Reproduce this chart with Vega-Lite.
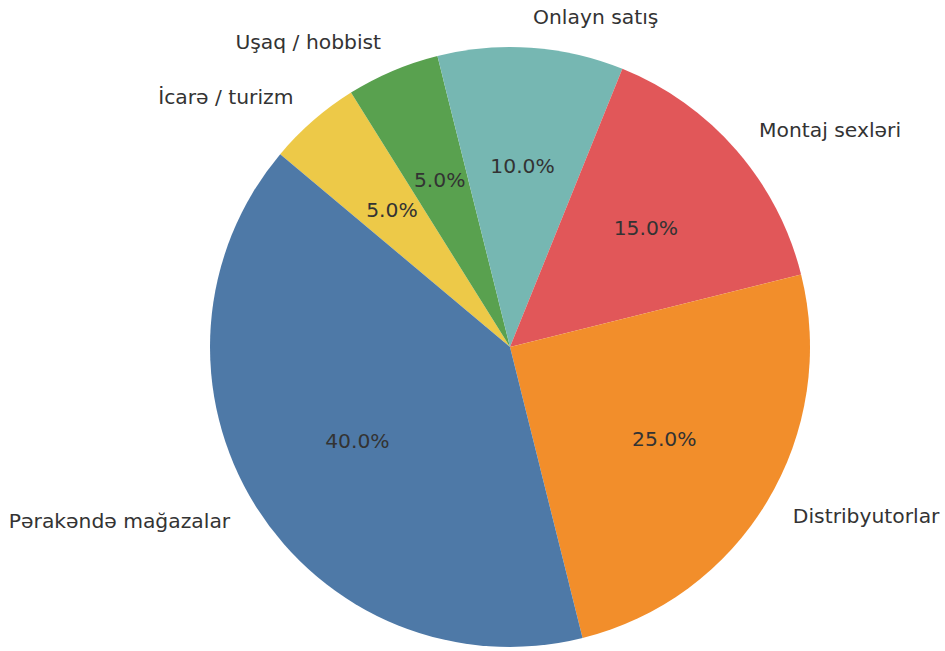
{
  "$schema": "https://vega.github.io/schema/vega-lite/v6.json",
  "width": 870,
  "height": 608,
  "padding": {"left": 75, "top": 43, "right": 0, "bottom": 0},
  "autosize": {"type": "none"},
  "background": "white",
  "view": {"stroke": null},
  "data": {
    "values": [
      {"label": "İcarə / turizm", "share": 5},
      {"label": "Uşaq / hobbist", "share": 5},
      {"label": "Onlayn satış", "share": 10},
      {"label": "Montaj sexləri", "share": 15},
      {"label": "Distribyutorlar", "share": 25},
      {"label": "Pərakəndə mağazalar", "share": 40}
    ]
  },
  "transform": [
    {"window": [{"op": "sum", "field": "share", "as": "s1"}], "frame": [null, 0]},
    {"calculate": "datum.s1 - datum.share", "as": "s0"},
    {"calculate": "(datum.s0 + datum.s1) / 2", "as": "mid"},
    {"calculate": "format(datum.share, '.1f') + '%'", "as": "pct"},
    {"calculate": "-50 + datum.mid * 3.6", "as": "midDeg"},
    {"calculate": "sin(datum.midDeg * PI / 180) >= 0 ? 'right' : 'left'", "as": "side"}
  ],
  "layer": [
    {
      "mark": {"type": "arc", "outerRadius": 300, "stroke": null},
      "encoding": {
        "theta": {"field": "s0", "type": "quantitative", "scale": {"domain": [0, 100], "range": [-0.87266, 5.41052]}},
        "theta2": {"field": "s1"},
        "color": {
          "field": "label", "type": "nominal", "legend": null,
          "scale": {
            "domain": ["Pərakəndə mağazalar", "Distribyutorlar", "Montaj sexləri", "Onlayn satış", "Uşaq / hobbist", "İcarə / turizm"],
            "range": ["#4e79a7", "#f28e2b", "#e15759", "#76b7b2", "#59a14f", "#edc948"]
          }
        }
      }
    },
    {
      "mark": {"type": "text", "radius": 180, "font": "DejaVu Sans", "fontSize": 20.3, "fill": "#333333", "align": "center", "baseline": "middle"},
      "encoding": {
        "theta": {"field": "mid", "type": "quantitative", "scale": {"domain": [0, 100], "range": [-0.87266, 5.41052]}},
        "text": {"field": "pct"}
      }
    },
    {
      "transform": [{"filter": "datum.side == 'right'"}],
      "mark": {"type": "text", "radius": 330, "font": "DejaVu Sans", "fontSize": 20.3, "fill": "#333333", "align": "left", "baseline": "middle"},
      "encoding": {
        "theta": {"field": "mid", "type": "quantitative", "scale": {"domain": [0, 100], "range": [-0.87266, 5.41052]}},
        "text": {"field": "label"}
      }
    },
    {
      "transform": [{"filter": "datum.side == 'left'"}],
      "mark": {"type": "text", "radius": 330, "font": "DejaVu Sans", "fontSize": 20.3, "fill": "#333333", "align": "right", "baseline": "middle"},
      "encoding": {
        "theta": {"field": "mid", "type": "quantitative", "scale": {"domain": [0, 100], "range": [-0.87266, 5.41052]}},
        "text": {"field": "label"}
      }
    }
  ]
}
